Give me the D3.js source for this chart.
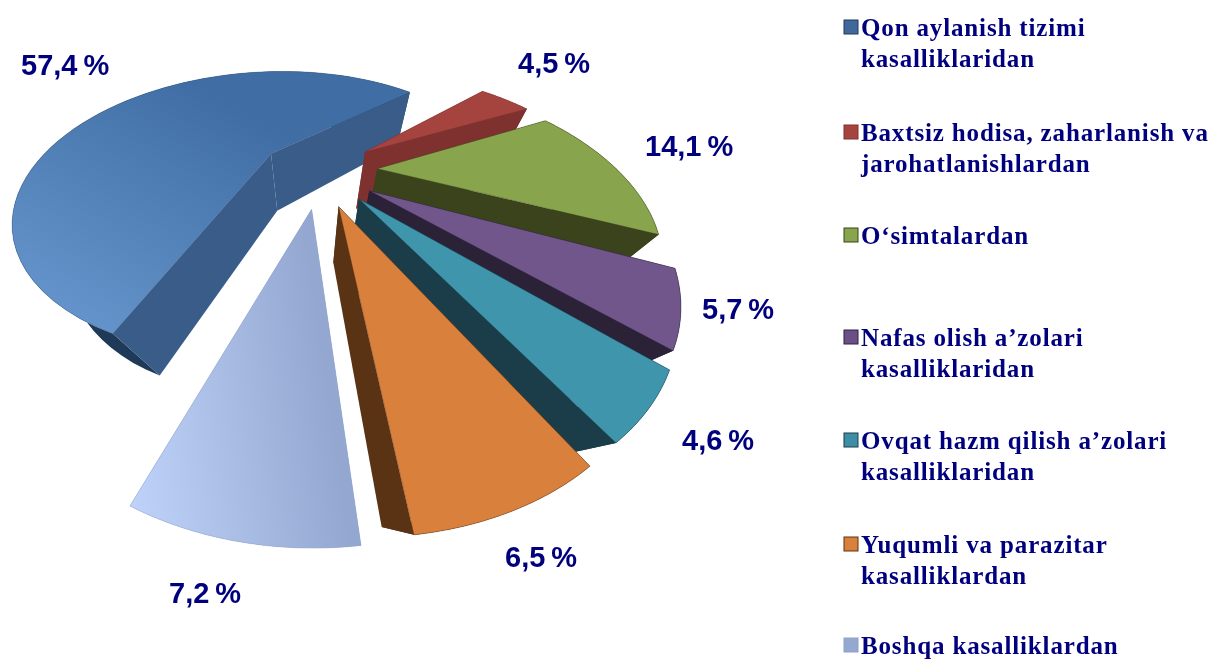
<!DOCTYPE html>
<html>
<head>
<meta charset="utf-8">
<script src="https://cdn.jsdelivr.net/npm/d3@7"></script>
<style>
  html, body { margin: 0; padding: 0; background: #fff; }
  svg { display: block; filter: blur(0.4px); }
</style>
</head>
<body>
<div id="chart"></div>
<script>
// data
const categories = [
    ['Qon aylanish tizimi', 'kasalliklaridan'],
    ['Baxtsiz hodisa, zaharlanish va', 'jarohatlanishlardan'],
    ['O‘simtalardan'],
    ['Nafas olish a’zolari', 'kasalliklaridan'],
    ['Ovqat hazm qilish a’zolari', 'kasalliklaridan'],
    ['Yuqumli va parazitar', 'kasalliklardan'],
    ['Boshqa kasalliklardan']
]
const values = [57.4, 4.5, 14.1, 5.7, 4.6, 6.5, 7.2]

// colours, one per slice
const topColors = ['url(#blueTop)', '#a5443f', '#88a44c', '#71568c', '#3e95ac', '#d8803c', 'url(#paleTop)']
const sideColors = ['#395c89', '#7f312f', '#3a431c', '#2c2238', '#1a3d49', '#5a3315', '#8ea2c9']
const rimColors = ['#1f3a58', '#7f312f', '#3a431c', '#2c2238', '#1a3d49', '#5a3315', '#8ea2c9']
const swatchColors = ['#40689c', '#a5443f', '#88a44c', '#6b5088', '#3e8fa6', '#d8803c', '#94a8d0']

// how far each slice is pulled out, in pie radii
const explodeX = [-0.172, 0.244, 0.282, 0.231, 0.186, 0.106, 0.006]
const explodeY = [-0.205, -0.22, -0.084, 0.074, 0.128, 0.174, 0.19]

// label placement
const labelX = [21, 518, 645, 702, 682, 505, 169]
const labelY = [75, 73, 156, 319, 450, 567, 603]
const legendY = [36, 141, 244, 346, 449, 553, 654]

const w = 1210
const h = 659

const svg = d3.select('#chart').append('svg')
    .attr('width', w)
    .attr('height', h)

const defs = svg.append('defs')

const blueGrad = defs.append('linearGradient')
    .attr('id', 'blueTop')
    .attr('gradientUnits', 'userSpaceOnUse')
    .attr('x1', 240).attr('y1', 110)
    .attr('x2', 110).attr('y2', 335)
blueGrad.append('stop').attr('offset', 0).attr('stop-color', '#406ea4')
blueGrad.append('stop').attr('offset', 1).attr('stop-color', '#6393ca')

const paleGrad = defs.append('linearGradient')
    .attr('id', 'paleTop')
    .attr('gradientUnits', 'userSpaceOnUse')
    .attr('x1', 130).attr('y1', 500)
    .attr('x2', 340).attr('y2', 470)
paleGrad.append('stop').attr('offset', 0).attr('stop-color', '#bfd3fa')
paleGrad.append('stop').attr('offset', 1).attr('stop-color', '#93a7d0')

// camera looks down at the pie, so the near side is a lot bigger than the far side
const originX = 310
const originY = 180
const radiusX = 248
const radiusY = 140
const tilt = 0.46
const depthW = 0.208
const depthY = 68.6

function project(x, y, level) {
    let k = 1 - tilt * y + depthW * level
    return [originX + radiusX * x / k, originY + (radiusY * y + depthY * level) / k]
}

const pie = d3.pie()
    .sort(null)
    .value(function(d) { return d })
    .startAngle(200.9 * Math.PI / 180)
    .endAngle(200.9 * Math.PI / 180 + 2 * Math.PI)

const arcs = pie(values)
const line = d3.line()

arcs.forEach(function(d, i) {
    let ox = explodeX[i]
    let oy = explodeY[i]

    function edge(a, level) {
        return project(ox + Math.sin(a), oy - Math.cos(a), level)
    }

    let steps = d3.range(0, 61).map(function(s) {
        return d.startAngle + (d.endAngle - d.startAngle) * s / 60
    })
    let rimTop = steps.map(function(a) { return edge(a, 0) })
    let rimBottom = steps.map(function(a) { return edge(a, 1) })
    let apexTop = project(ox, oy, 0)
    let apexBottom = project(ox, oy, 1)

    let g = svg.append('g').attr('class', 'slice')

    // outer wall
    g.append('path')
        .attr('d', line(rimTop.concat(rimBottom.slice().reverse())) + 'Z')
        .attr('fill', rimColors[i])

    // the two cut faces
    ;[d.startAngle, d.endAngle].forEach(function(a) {
        g.append('path')
            .attr('d', line([apexTop, edge(a, 0), edge(a, 1), apexBottom]) + 'Z')
            .attr('fill', sideColors[i])
    })

    // top
    g.append('path')
        .attr('d', line([apexTop].concat(rimTop)) + 'Z')
        .attr('fill', topColors[i])
        .attr('stroke', sideColors[i])
        .attr('stroke-width', 0.6)
        .attr('stroke-opacity', 0.7)
})

// percent labels
svg.selectAll('text.pct')
    .data(values)
    .enter()
    .append('text')
    .attr('class', 'pct')
    .attr('x', function(d, i) { return labelX[i] })
    .attr('y', function(d, i) { return labelY[i] })
    .attr('font-family', '"Liberation Sans", Arial, sans-serif')
    .attr('font-weight', 'bold')
    .attr('font-size', 29)
    .attr('word-spacing', -2)
    .attr('fill', '#00007f')
    .text(function(d) { return d.toFixed(1).replace('.', ',') + ' %' })

// legend
categories.forEach(function(lines, i) {
    let base = legendY[i]
    svg.append('rect')
        .attr('x', 844)
        .attr('y', base - 16)
        .attr('width', 14)
        .attr('height', 14)
        .attr('fill', swatchColors[i])
        .attr('stroke', rimColors[i])
        .attr('stroke-width', 1)

    lines.forEach(function(t, j) {
        svg.append('text')
            .attr('x', 861)
            .attr('y', base + j * 31)
            .attr('font-family', '"Liberation Serif", "Times New Roman", serif')
            .attr('font-weight', 'bold')
            .attr('font-size', 25)
            .attr('letter-spacing', 0.85)
            .attr('fill', '#00007f')
            .text(t)
    })
})
</script>
</body>
</html>
